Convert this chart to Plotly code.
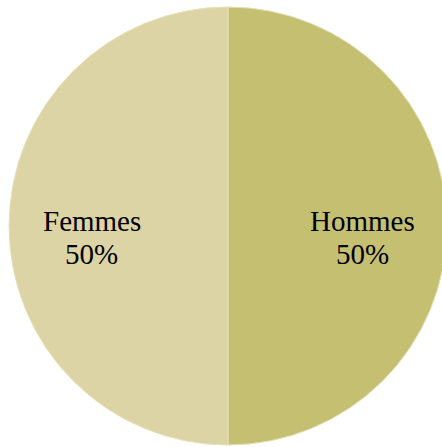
import plotly.graph_objects as go

labels = ["Hommes", "Femmes"]
values = [50, 50]
colors = ["#C5BF72", "#DCD4A4"]

# label anchor positions (paper coordinates) for each slice
label_x = [0.808, 0.189]
label_y_name = [0.511, 0.511]
label_y_pct = [0.436, 0.436]

fig = go.Figure(go.Pie(
    labels=labels,
    values=values,
    sort=False,
    direction="clockwise",
    rotation=0,
    marker=dict(colors=colors, line=dict(color="#E6E0B8", width=1)),
    textinfo="none",
    showlegend=False,
    hoverinfo="skip",
))

total = sum(values)
font = dict(family="Liberation Serif", size=29, color="black")
for lab, val, x, yn, yp in zip(labels, values, label_x, label_y_name, label_y_pct):
    fig.add_annotation(x=x, y=yn, xref="paper", yref="paper", text=lab,
                       showarrow=False, font=font, xanchor="center", yanchor="middle")
    fig.add_annotation(x=x, y=yp, xref="paper", yref="paper",
                       text=f"{round(100 * val / total)}%",
                       showarrow=False, font=font, xanchor="center", yanchor="middle")

fig.update_layout(
    width=447, height=447,
    margin=dict(l=9, r=0, t=7, b=2),
    paper_bgcolor="white",
    showlegend=False,
)
fig.write_html(
    "out.html",
    config={"displayModeBar": False},
    post_script="document.body.style.margin='0px';document.body.style.overflow='hidden';",
)
